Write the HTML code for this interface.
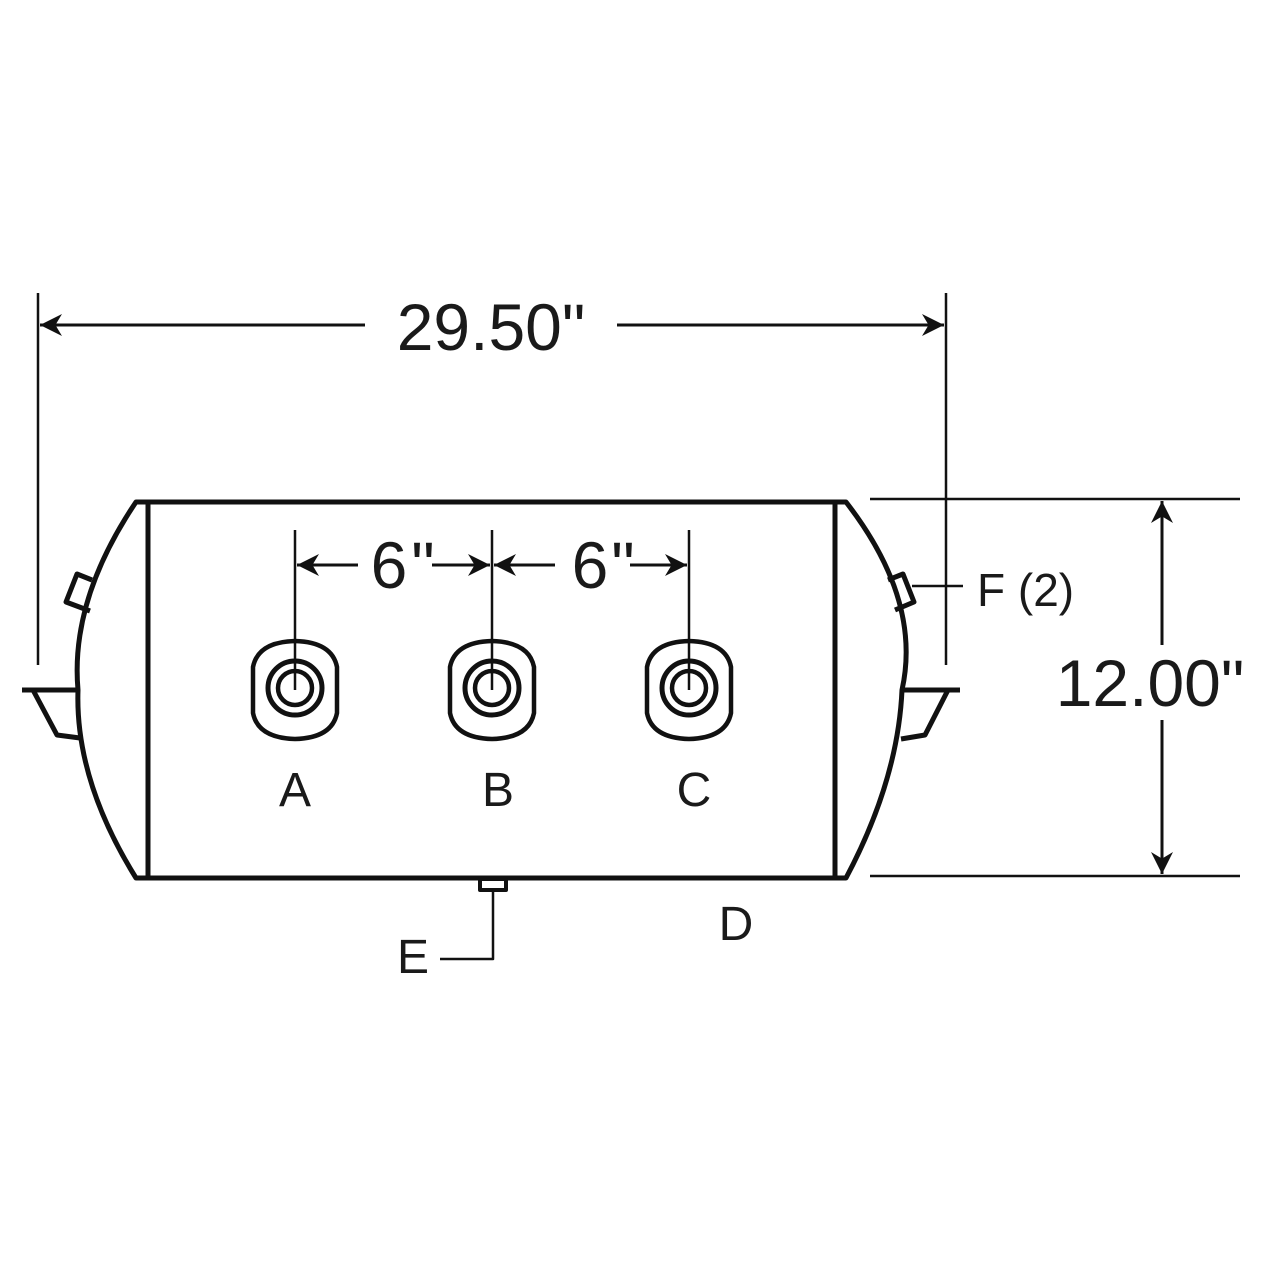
<!DOCTYPE html>
<html><head><meta charset="utf-8"><style>html,body{margin:0;padding:0;background:#fff}svg{display:block}</style></head>
<body>
<svg width="1280" height="1280" viewBox="0 0 1280 1280" xmlns="http://www.w3.org/2000/svg">
<defs>
<marker id="ar2" viewBox="0 0 10 10" refX="10" refY="5" markerWidth="28" markerHeight="22" markerUnits="userSpaceOnUse" orient="auto-start-reverse">
<path d="M0,0 L10,5 L0,10 L3,5 Z" fill="#111"/></marker>
</defs>
<g fill="none" stroke="#111" stroke-linejoin="round">
<path d="M136,502 L846,502 Q922,600 902,690 Q898,780 846,878 L136,878 Q75,780 78,690 Q70,600 136,502 Z" stroke-width="5"/>
<line x1="148" y1="502" x2="148" y2="878" stroke-width="5"/>
<line x1="835" y1="502" x2="835" y2="878" stroke-width="5"/>
<path d="M22,690 L78,690 M33,690 L57,735 L80,738" stroke-width="5"/>
<path d="M92,580 L77,574 L66,602 L90,611" stroke-width="5"/>
<path d="M904,690 L960,690 M948,690 L925,735 L901,739" stroke-width="5"/>
<path d="M888,580 L903,574 L914,602 L895,610" stroke-width="5"/>
<line x1="912" y1="586" x2="963" y2="586" stroke-width="2.5"/>
<line x1="38" y1="293" x2="38" y2="665" stroke-width="2.5"/>
<line x1="946" y1="293" x2="946" y2="665" stroke-width="2.5"/>
<line x1="365" y1="325" x2="40" y2="325" stroke-width="3" marker-end="url(#ar2)"/>
<line x1="617" y1="325" x2="944" y2="325" stroke-width="3" marker-end="url(#ar2)"/>
<line x1="870" y1="499" x2="1240" y2="499" stroke-width="2.5"/>
<line x1="870" y1="876" x2="1240" y2="876" stroke-width="2.5"/>
<line x1="1162" y1="645" x2="1162" y2="501" stroke-width="3" marker-end="url(#ar2)"/>
<line x1="1162" y1="720" x2="1162" y2="874" stroke-width="3" marker-end="url(#ar2)"/>
<g id="port">
<path d="M253,667 Q258,642 295,641 Q332,642 337,667 L337,713 Q332,738 295,739 Q258,738 253,713 Z" stroke-width="4.5"/>
<circle cx="295" cy="688" r="27" stroke-width="5"/>
<circle cx="295" cy="688" r="17" stroke-width="4.5"/>
</g>
<use href="#port" x="197"/>
<use href="#port" x="394"/>
<line x1="295" y1="530" x2="295" y2="690" stroke-width="2.5"/>
<line x1="492" y1="530" x2="492" y2="690" stroke-width="2.5"/>
<line x1="689" y1="530" x2="689" y2="690" stroke-width="2.5"/>
<line x1="358" y1="565" x2="297" y2="565" stroke-width="3" marker-end="url(#ar2)"/>
<line x1="432" y1="565" x2="490" y2="565" stroke-width="3" marker-end="url(#ar2)"/>
<line x1="555" y1="565" x2="494" y2="565" stroke-width="3" marker-end="url(#ar2)"/>
<line x1="630" y1="565" x2="687" y2="565" stroke-width="3" marker-end="url(#ar2)"/>
<rect x="480" y="879" width="26" height="11" stroke-width="4"/>
<path d="M493,890 L493,959 L440,959" stroke-width="2.5"/>
</g>
<g font-family="Liberation Sans, sans-serif" fill="#1a1a1a">
<text x="491" y="350" font-size="66" text-anchor="middle">29.50"</text>
<text x="1150" y="706" font-size="66" text-anchor="middle">12.00"</text>
<text x="389" y="588" font-size="66" text-anchor="middle">6</text>
<text x="423" y="588" font-size="66" text-anchor="middle">"</text>
<text x="590" y="588" font-size="66" text-anchor="middle">6</text>
<text x="623" y="588" font-size="66" text-anchor="middle">"</text>
<text x="295" y="806" font-size="48" text-anchor="middle">A</text>
<text x="498" y="806" font-size="48" text-anchor="middle">B</text>
<text x="694" y="806" font-size="48" text-anchor="middle">C</text>
<text x="413" y="973" font-size="48" text-anchor="middle">E</text>
<text x="736" y="940" font-size="48" text-anchor="middle">D</text>
<text x="977" y="606" font-size="46">F (2)</text>
</g>
</svg>
</body></html>
